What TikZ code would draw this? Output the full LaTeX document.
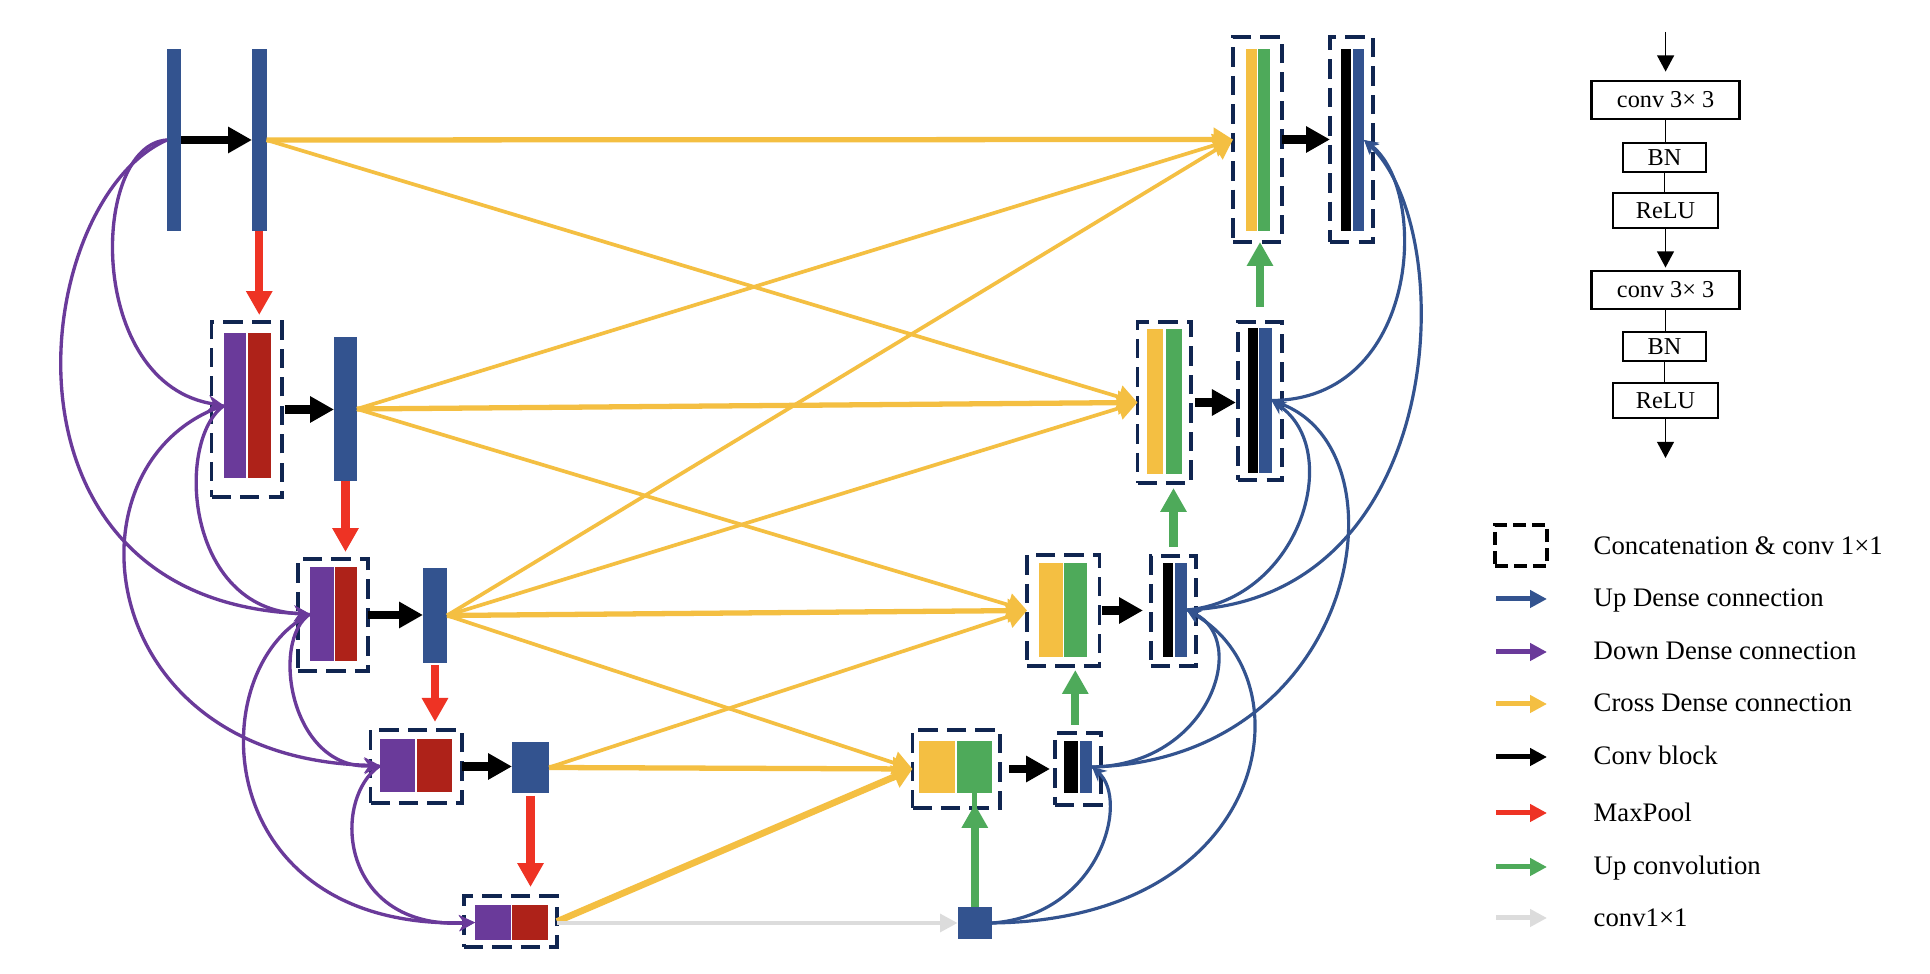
\documentclass[tikz,border=0pt]{standalone}
\usepackage{fontspec}
\setmainfont{Liberation Serif}
\usetikzlibrary{arrows.meta}
\definecolor{cblue}{HTML}{33538F}
\definecolor{cpurple}{HTML}{6A3A9A}
\definecolor{cdred}{HTML}{AE2219}
\definecolor{cyellow}{HTML}{F4BF42}
\definecolor{cgreen}{HTML}{4EAA5A}
\definecolor{cred}{HTML}{EE3324}
\definecolor{cnavy}{HTML}{102550}
\definecolor{cgray}{HTML}{DCDCDC}
\newcommand{\mkbar}[6]{\node[bar, fill=#2, minimum width={(#4-#3)*0.01cm}, minimum height={(#6-#5)*0.01cm}] (#1) at ({(#3+#4)/2},{(#5+#6)/2}) {};}
\newcommand{\mkbox}[6][]{\node[cbox, #1, minimum width={(#4-#3)*0.01cm}, minimum height={(#6-#5)*0.01cm}] (#2) at ({(#3+#4)/2},{(#5+#6)/2}) {};}
\begin{document}
\begin{tikzpicture}[x=0.01cm,y=-0.01cm,
  bar/.style={rectangle, inner sep=0pt, outer sep=0pt, draw=none},
  cbox/.style={rectangle, inner sep=0pt, outer sep=0pt, draw=cnavy, line width=0.9pt, dash pattern=on 5.5pt off 2.6pt},
  convarr/.style={black, line width=2.3pt, -{Triangle[length=6.8pt,width=7.1pt]}},
  poolarr/.style={cred, line width=2.3pt, -{Triangle[length=6.8pt,width=7.1pt]}},
  uparr/.style={cgreen, line width=2.3pt, -{Triangle[length=6.8pt,width=7.1pt]}},
  cross/.style={cyellow, line width=1.05pt, -{Triangle[length=5.5pt,width=6.5pt]}},
  crossthick/.style={cross, line width=1.5pt},
  crossheavy/.style={cross, line width=1.9pt},
  ddense/.style={cpurple, line width=0.95pt, -{Stealth[length=4.5pt,width=4.5pt]}},
  udense/.style={cblue, line width=0.9pt, -{Stealth[length=4pt,width=4pt]}},
  onebyone/.style={cgray, line width=1.2pt, -{Triangle[length=5pt,width=5pt]}},
  legarr/.style={line width=1.42pt, -{Triangle[length=4.8pt,width=4.8pt]}},
  legtext/.style={anchor=base west, inner sep=0pt, font=\fontsize{7.6pt}{9pt}\selectfont},
  blk/.style={draw=black, line width=0.75pt, inner sep=0pt, font=\fontsize{6.9pt}{8pt}\selectfont},
  thinarr/.style={black, line width=0.45pt, -{Triangle[length=4.6pt,width=4.8pt]}},
  thinline/.style={black, line width=0.45pt}
]
\fill[white] (0,0) rectangle (1930,974);
\useasboundingbox (0,0) rectangle (1930,974);

% ---------------- encoder ----------------
\mkbar{A1}{cblue}{167}{181}{49}{231}
\mkbar{A2}{cblue}{252}{266.5}{49}{231}
\mkbox{B1box}{211.6}{282}{322}{497}
\mkbar{B1p}{cpurple}{224}{246.4}{333}{478}
\mkbar{B1r}{cdred}{248}{270.5}{333}{478}
\mkbar{B2}{cblue}{334}{357}{337}{481}
\mkbox{C1box}{298}{368}{559}{671}
\mkbar{C1p}{cpurple}{310}{333.5}{567}{661}
\mkbar{C1r}{cdred}{334.5}{357}{567}{661}
\mkbar{C2}{cblue}{423}{447}{568}{663}
\mkbox{D1box}{370.5}{462}{730}{803}
\mkbar{D1p}{cpurple}{380}{415}{739}{792}
\mkbar{D1r}{cdred}{416.5}{452}{739}{792}
\mkbar{D2}{cblue}{512}{549}{742}{793}
\mkbox{E1box}{464}{557}{896}{947}
\mkbar{E1p}{cpurple}{475}{511}{905}{940}
\mkbar{E1r}{cdred}{512}{548}{905}{940}

% ---------------- decoder ----------------
\mkbar{J}{cblue}{957.6}{992}{907}{939}
\mkbox{I1box}{912.5}{1000}{730}{808}
\mkbar{I1y}{cyellow}{919}{954.5}{741}{793}
\mkbar{I1g}{cgreen}{957}{992}{741}{793}
\mkbox{I2box}{1055}{1101}{733}{805}
\mkbar{I2k}{black}{1064}{1078}{741}{793}
\mkbar{I2b}{cblue}{1079.5}{1092}{741}{793}
\mkbox{H1box}{1027}{1099.5}{555}{666}
\mkbar{H1y}{cyellow}{1039}{1062.5}{563}{657}
\mkbar{H1g}{cgreen}{1064}{1086.6}{563}{657}
\mkbox{H2box}{1151}{1196}{556}{666}
\mkbar{H2k}{black}{1163}{1173}{563}{657}
\mkbar{H2b}{cblue}{1175}{1186.6}{563}{657}
\mkbox{G1box}{1137.5}{1191}{322}{483}
\mkbar{G1y}{cyellow}{1147}{1163}{329}{474}
\mkbar{G1g}{cgreen}{1165.6}{1182}{329}{474}
\mkbox{G2box}{1238}{1282}{322}{480}
\mkbar{G2k}{black}{1248}{1258}{328}{473}
\mkbar{G2b}{cblue}{1259}{1271.5}{328}{473}
\mkbox{F1box}{1233}{1282}{37}{242}
\mkbar{F1y}{cyellow}{1245.5}{1257}{49}{231}
\mkbar{F1g}{cgreen}{1258}{1270}{49}{231}
\mkbox{F2box}{1330}{1373}{37}{242}
\mkbar{F2k}{black}{1340.6}{1351}{49}{231}
\mkbar{F2b}{cblue}{1353}{1364}{49}{231}

% ---------------- cross dense (yellow) ----------------
\draw[crossthick] (A2.east) -- (F1box.west);
\draw[cross] (A2.east) -- (G1box.west);
\draw[cross] (B2.east) -- (F1box.west);
\draw[crossthick] (B2.east) -- (G1box.west);
\draw[cross] (B2.east) -- (H1box.west);
\draw[cross] (C2.east) -- (F1box.west);
\draw[cross] (C2.east) -- (G1box.west);
\draw[crossthick] (C2.east) -- (H1box.west);
\draw[cross] (C2.east) -- (I1box.west);
\draw[cross] (D2.east) -- (H1box.west);
\draw[crossthick] (D2.east) -- (I1box.west);
\draw[crossheavy] (E1box.east) -- (I1box.west);

% ---------------- conv1x1 (gray) ----------------
\draw[onebyone] (E1box.east |- J.west) -- (J.west);

% ---------------- conv blocks (black) ----------------
\draw[convarr] (A1.east) -- (A1.east -| A2.west);
\draw[convarr, shorten <=0.85pt] (B1box.east) -- (B1box.east -| B2.west);
\draw[convarr] (C1box.east) -- (C1box.east -| C2.west);
\draw[convarr] (D1box.east) -- (D1box.east -| D2.west);
\draw[convarr, shorten <=2.56pt, shorten >=1.42pt] (I1box.east) -- (I1box.east -| I2box.west);
\draw[convarr, shorten <=0.6pt, shorten >=2.28pt] (H1box.east) -- (H1box.east -| H2box.west);
\draw[convarr, shorten <=1.14pt, shorten >=0.6pt] (G1box.east) -- (G1box.east -| G2box.west);
\draw[convarr] (F1box.east) -- (F1box.east -| F2box.west);

% ---------------- maxpool (red) ----------------
\draw[poolarr, shorten >=2pt] (A2.south) -- (A2.south |- B1box.north);
\draw[poolarr, shorten >=2pt] (B2.south) -- (B2.south |- C1box.north);
\draw[poolarr, shorten <=0.6pt, shorten >=2.3pt] (C2.south) -- (C2.south |- D1box.north);
\draw[poolarr, shorten <=0.85pt, shorten >=2.56pt] (D2.south) -- (D2.south |- E1box.north);

% ---------------- up convolution (green) ----------------
\draw[cgreen, line width=1.2pt] (I1g.south) -- ([yshift=-1.2pt]I1g.south |- I1box.south);
\draw[uparr, shorten >=-1.14pt] (J.north) -- (J.north |- I1box.south);
\draw[uparr, shorten <=2.28pt, shorten >=1.14pt] (H1g.south |- I2box.north) -- (H1g.south |- H1box.south);
\draw[uparr, shorten <=2.56pt, shorten >=1.42pt] (H2box.north) -- (H2box.north |- G1box.south);
\draw[uparr, shorten <=4.27pt] (G2box.north) -- (G2box.north |- F1box.south);

% ---------------- down dense (purple) ----------------
\draw[ddense] (A1.west) .. controls +(-77,5) and +(-139,-20.5) .. (B1p.west);
\draw[ddense] (A1.west) .. controls +(-137,60) and +(-330,-14) .. (C1p.west);
\draw[ddense] (B1p.west) .. controls +(-49,34.5) and +(-125,-4) .. (C1p.west);
\draw[ddense] (B1p.west) .. controls +(-164,54.5) and +(-290,-5.5) .. (D1p.west);
\draw[ddense] (C1p.west) .. controls +(-40,26) and +(-90,4.5) .. (D1p.west);
\draw[ddense] (C1p.west) .. controls +(-110,56) and +(-265,7.5) .. (E1p.west);
\draw[ddense] (D1p.west) .. controls +(-50,34.5) and +(-135,7.5) .. (E1p.west);

% ---------------- up dense (blue) ----------------
\draw[udense] (G2b.east) .. controls +(148.5,-0.5) and +(66,50) .. (F2b.east);
\draw[udense] (H2b.east) .. controls +(263.4,-10) and +(96,90) .. (F2b.east);
\draw[udense] (H2b.east) .. controls +(113.4,-10) and +(73.5,49.5) .. (G2b.east);
\draw[udense] (I2b.east) .. controls +(268,-7) and +(138.5,49.5) .. (G2b.east);
\draw[udense] (I2b.east) .. controls +(118,-2) and +(63.4,30) .. (H2b.east);
\draw[udense] (J.east) .. controls +(108,-8) and +(38,33) .. (I2b.east);
\draw[udense] (J.east) .. controls +(278,-3) and +(123.4,70) .. (H2b.east);

% ---------------- conv block detail ----------------
\coordinate (cin) at (1665.6,32);
\node[blk, minimum width=1.48cm, minimum height=0.38cm] (conv1) at (1665.6,100) {conv 3× 3};
\node[blk, minimum width=0.83cm, minimum height=0.29cm] (bn1) at (1664.5,157.5) {BN};
\node[blk, minimum width=1.05cm, minimum height=0.35cm] (relu1) at (1665.5,210.5) {ReLU};
\node[blk, minimum width=1.48cm, minimum height=0.38cm] (conv2) at (1665.6,290) {conv 3× 3};
\node[blk, minimum width=0.83cm, minimum height=0.29cm] (bn2) at (1664.5,346.5) {BN};
\node[blk, minimum width=1.05cm, minimum height=0.35cm] (relu2) at (1665.5,400.5) {ReLU};
\coordinate (cout) at (1665.5,458);
\draw[thinarr, shorten >=2.3pt] (cin) -- (conv1.north);
\draw[thinline] (conv1.south) -- (conv1.south |- bn1.north);
\draw[thinline] (bn1.south) -- (bn1.south |- relu1.north);
\draw[thinarr, shorten >=0.6pt] (relu1.south) -- (relu1.south |- conv2.north);
\draw[thinline] (conv2.south) -- (conv2.south |- bn2.north);
\draw[thinline] (bn2.south) -- (bn2.south |- relu2.north);
\draw[thinarr] (relu2.south) -- (cout);

% ---------------- legend ----------------
\mkbox[draw=black, dash pattern=on 3.6pt off 1.8pt]{lbox}{1495}{1547}{525}{566}
\node[legtext] (lt1) at (1593,555) {Concatenation \& conv 1×1};
\node[legtext] (lt2) at (1593,607) {Up Dense connection};
\node[legtext] (lt3) at (1593,660) {Down Dense connection};
\node[legtext] (lt4) at (1593,712) {Cross Dense connection};
\node[legtext] (lt5) at (1593,765) {Conv block};
\node[legtext] (lt6) at (1593,822) {MaxPool};
\node[legtext] (lt7) at (1593,875) {Up convolution};
\node[legtext] (lt8) at (1593,927) {conv1×1};
\coordinate (la2) at (1496,599); \coordinate (lb2) at (1547,599);
\coordinate (la3) at (1496,652); \coordinate (lb3) at (1547,652);
\coordinate (la4) at (1496,704); \coordinate (lb4) at (1547,704);
\coordinate (la5) at (1496,757); \coordinate (lb5) at (1547,757);
\coordinate (la6) at (1496,813); \coordinate (lb6) at (1547,813);
\coordinate (la7) at (1496,867); \coordinate (lb7) at (1547,867);
\coordinate (la8) at (1496,918); \coordinate (lb8) at (1547,918);
\draw[legarr, cblue] (la2) -- (lb2);
\draw[legarr, cpurple] (la3) -- (lb3);
\draw[legarr, cyellow] (la4) -- (lb4);
\draw[legarr, black] (la5) -- (lb5);
\draw[legarr, cred] (la6) -- (lb6);
\draw[legarr, cgreen] (la7) -- (lb7);
\draw[legarr, cgray] (la8) -- (lb8);
\end{tikzpicture}
\end{document}
